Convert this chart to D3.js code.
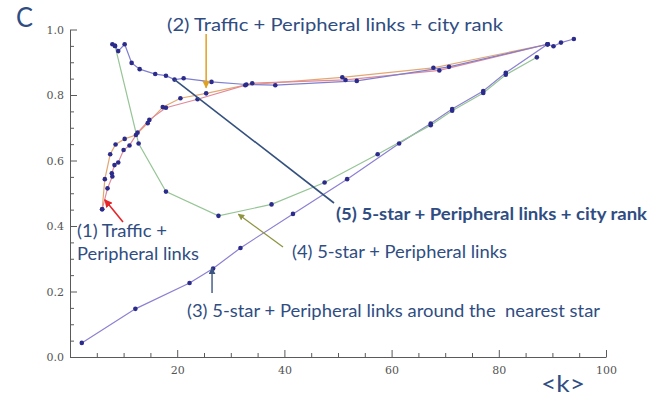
<!DOCTYPE html>
<html>
<head>
<meta charset="utf-8">
<script src="https://cdn.jsdelivr.net/npm/d3@7"></script>
<style>
  html, body { margin: 0; padding: 0; background: #fff; }
  svg { display: block; }
</style>
</head>
<body>
<svg id="chart" width="670" height="401"></svg>
<script>
// <k> values and clustering values for each network model
const trafficPeripheral = [
  [6.0, 0.451], [7.0, 0.515], [7.9, 0.551], [7.8, 0.561], [8.3, 0.586], [9.0, 0.594],
  [10.0, 0.632], [11.1, 0.646], [12.6, 0.685], [14.8, 0.724], [17.9, 0.761],
  [23.8, 0.787], [34.0, 0.836], [51.4, 0.846], [68.9, 0.875], [89.1, 0.955]
];
const trafficCityRank = [
  [6.0, 0.451], [6.5, 0.543], [7.5, 0.619], [8.5, 0.649], [10.2, 0.666], [12.3, 0.678],
  [14.5, 0.714], [17.3, 0.763], [20.6, 0.79], [25.4, 0.805], [32.7, 0.83],
  [50.8, 0.854], [67.8, 0.883], [89.1, 0.955]
];
const starNearest = [
  [2.2, 0.043], [12.2, 0.147], [22.3, 0.226], [26.7, 0.27], [31.8, 0.333], [41.6, 0.437],
  [51.7, 0.543], [61.4, 0.652], [67.3, 0.713], [71.3, 0.757], [77.1, 0.812],
  [81.3, 0.868], [89.1, 0.955], [90.2, 0.949], [91.6, 0.96], [94.0, 0.971]
];
const starPeripheral = [
  [8.4, 0.95], [12.8, 0.652], [17.9, 0.505], [27.7, 0.431], [37.6, 0.466], [47.5, 0.533],
  [57.4, 0.619], [67.3, 0.708], [71.3, 0.752], [77.1, 0.806], [81.3, 0.862], [87.1, 0.915]
];
const starCityRank = [
  [7.9, 0.955], [8.4, 0.95], [9.0, 0.934], [10.2, 0.955], [11.5, 0.898], [13.0, 0.879],
  [15.9, 0.864], [17.9, 0.859], [19.5, 0.847], [21.2, 0.851], [26.4, 0.84],
  [32.9, 0.832], [38.3, 0.83], [53.5, 0.843], [70.7, 0.886], [89.1, 0.955]
];
const xMajorTicks = [20, 40, 60, 80, 100];
const yMajorTicks = [0.0, 0.2, 0.4, 0.6, 0.8, 1.0];

const svg = d3.select("#chart");
const x = d3.scaleLinear().domain([0, 100]).range([70, 606]);
const y = d3.scaleLinear().domain([0, 1]).range([357, 29.5]);

const axisColor = "#5a5a5a";
const labelFont = "'DejaVu Serif', 'Liberation Serif', serif";
const textColor = "#2f4d82";
const textFont = "Lato, 'Open Sans', sans-serif";

// axes with inward ticks: minor every 5 (or 0.05), major at labelled values
const gx = svg.append("g").attr("transform", `translate(0,${y(0)})`);
gx.call(d3.axisBottom(x).tickValues(d3.range(5, 100, 5).filter(v => v % 20 !== 0))
  .tickSize(-4).tickSizeOuter(0).tickFormat(""));
gx.call(g => g.select(".domain").remove());
const gx2 = svg.append("g").attr("transform", `translate(0,${y(0)})`);
gx2.call(d3.axisBottom(x).tickValues(xMajorTicks).tickSize(-7).tickSizeOuter(0).tickPadding(14));

const gy = svg.append("g").attr("transform", `translate(${x(0)},0)`);
gy.call(d3.axisLeft(y).tickValues(d3.range(0.05, 1, 0.05).filter((v, i) => (i + 1) % 4 !== 0))
  .tickSize(-4).tickSizeOuter(0).tickFormat(""));
gy.call(g => g.select(".domain").remove());
const gy2 = svg.append("g").attr("transform", `translate(${x(0)},0)`);
gy2.call(d3.axisLeft(y).tickValues(yMajorTicks).tickSize(-7).tickSizeOuter(0)
  .tickPadding(6).tickFormat(d3.format(".1f")));

svg.selectAll(".domain, .tick line").attr("stroke", axisColor).attr("stroke-width", 1);
svg.selectAll(".tick text").attr("fill", "#555").style("font-family", labelFont).style("font-size", "11px");
gx2.selectAll(".tick text").attr("dy", "0.3em");

// curves
const line = d3.line().x(d => x(d[0])).y(d => y(d[1]));
const series = [
  { data: starNearest, color: "#8c80d2" },
  { data: starPeripheral, color: "#96c596" },
  { data: trafficCityRank, color: "#e3a872" },
  { data: trafficPeripheral, color: "#e08a9a" },
  { data: starCityRank, color: "#7f7fcf" }
];
series.forEach(s => {
  svg.append("path").datum(s.data).attr("d", line)
    .attr("fill", "none").attr("stroke", s.color).attr("stroke-width", 1.2);
});
series.forEach(s => {
  svg.append("g").selectAll("circle").data(s.data).join("circle")
    .attr("cx", d => x(d[0])).attr("cy", d => y(d[1])).attr("r", 2.3)
    .attr("fill", "#2b2b8c");
});

// arrow markers
const defs = svg.append("defs");
function marker(id, color) {
  defs.append("marker").attr("id", id).attr("viewBox", "0 0 10 10")
    .attr("refX", 9).attr("refY", 5).attr("markerWidth", 5).attr("markerHeight", 5)
    .attr("orient", "auto")
    .append("path").attr("d", "M0,0 L10,5 L0,10 z").attr("fill", color);
}
marker("a-red", "#e5252a");
marker("a-orange", "#e0a020");
marker("a-olive", "#8f9440");
marker("a-blue", "#3a5580");

function arrow(x1, y1, x2, y2, color, w, mk) {
  const l = svg.append("line").attr("x1", x1).attr("y1", y1).attr("x2", x2).attr("y2", y2)
    .attr("stroke", color).attr("stroke-width", w);
  if (mk) l.attr("marker-end", `url(#${mk})`);
}
arrow(123, 222, x(6.5), y(0.48), "#e5252a", 1.6, "a-red");
arrow(x(25.4), 34, x(25.4), y(0.822), "#e0a020", 1.5, "a-orange");
arrow(x(19.5), y(0.847), 334, 203, "#34507f", 1.6, null);
arrow(283, 247, x(31.4), y(0.436), "#8f9440", 1.3, "a-olive");
arrow(x(26.5), 293, x(26.5), y(0.272), "#3a5580", 1.4, "a-blue");

// annotations
function label(txt, x0, yb, size, len, weight) {
  svg.append("text").attr("x", x0).attr("y", yb).text(txt)
    .attr("fill", textColor).style("font-family", textFont)
    .style("font-size", size + "px").style("font-weight", weight || "normal")
    .style("white-space", "pre")
    .attr("textLength", len).attr("lengthAdjust", "spacingAndGlyphs");
}
label("C", 16, 27, 26, 17);
label("(2) Traffic + Peripheral links + city rank", 167, 31, 17, 336);
label("(5) 5-star + Peripheral links + city rank", 336, 220, 17, 311, "bold");
label("(4) 5-star + Peripheral links", 292, 258, 17, 215);
label("(3) 5-star + Peripheral links around the  nearest star", 187, 317, 17, 413);
label("(1) Traffic +", 77, 237, 17, 90);
label("Peripheral links", 77, 260, 17, 122);
label("<k>", 541, 392, 24, 44);
</script>
</body>
</html>
